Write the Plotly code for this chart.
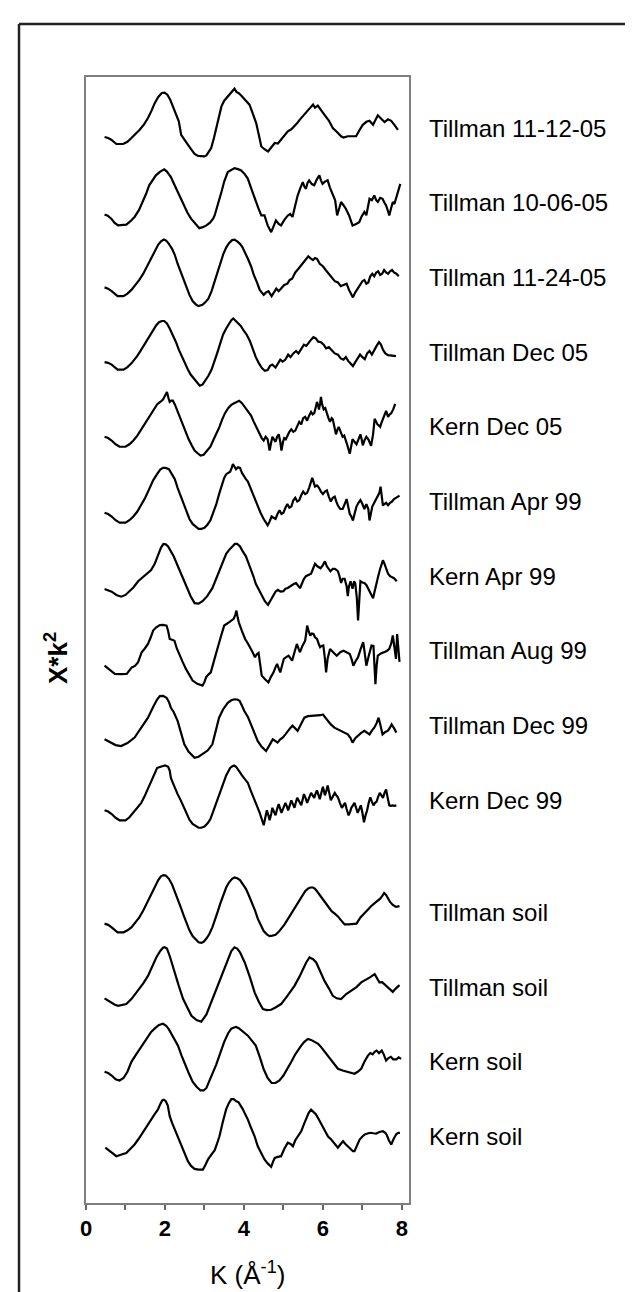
import plotly.graph_objects as go

# ---------------- data: (k [1/Angstrom], chi*k^2 [arb. units]) ----------------
sample_labels = ["Tillman 11-12-05", "Tillman 10-06-05", "Tillman 11-24-05", "Tillman Dec 05",
                 "Kern Dec 05", "Tillman Apr 99", "Kern Apr 99", "Tillman Aug 99",
                 "Tillman Dec 99", "Kern Dec 99", "Tillman soil", "Tillman soil",
                 "Kern soil", "Kern soil"]
stack_offsets = [0, -3, -6, -9, -12, -15, -18, -21, -24, -27, -31.5, -34.5, -37.5, -40.5]

tillman_111205 = [(0.47,-0.36),(0.56,-0.4),(0.64,-0.47),(0.77,-0.64),(0.94,-0.64),(1.05,-0.55),(1.15,-0.4),(1.25,-0.25),(1.36,-0.07),(1.47,0.15),(1.57,0.4),(1.66,0.7),(1.74,1.0),(1.83,1.25),(1.92,1.41),(1.99,1.42),(2.06,1.34),(2.13,1.15),(2.2,0.87),(2.28,0.55),(2.35,0.27),(2.41,-0.27),(2.5,-0.5),(2.58,-0.67),(2.66,-0.85),(2.75,-1.04),(2.84,-1.12),(2.92,-1.14),(3.0,-1.14),(3.05,-1.1),(3.17,-0.8),(3.24,-0.4),(3.3,0.0),(3.37,0.45),(3.43,0.87),(3.5,1.1),(3.59,1.27),(3.66,1.4),(3.72,1.5),(3.76,1.58),(3.81,1.45),(3.87,1.4),(3.93,1.31),(4.03,1.15),(4.14,0.94),(4.22,0.6),(4.31,0.2),(4.38,-0.3),(4.44,-0.74),(4.52,-0.85),(4.61,-0.94),(4.68,-0.8),(4.78,-0.6),(4.86,-0.62),(4.94,-0.47),(5.02,-0.3),(5.11,-0.13),(5.2,-0.05),(5.28,0.07),(5.35,0.2),(5.41,0.33),(5.5,0.5),(5.58,0.67),(5.67,0.8),(5.75,0.94),(5.8,0.82),(5.87,0.9),(5.95,0.7),(6.04,0.53),(6.15,0.3),(6.25,0.0),(6.35,-0.15),(6.46,-0.33),(6.52,-0.38),(6.63,-0.33),(6.75,-0.33),(6.84,-0.33),(6.92,-0.1),(7.01,0.13),(7.1,0.25),(7.18,0.29),(7.27,0.13),(7.33,0.35),(7.39,0.51),(7.47,0.38),(7.56,0.24),(7.65,0.35),(7.73,0.29),(7.81,0.13),(7.9,-0.07)]

tillman_100605 = [(0.47,-0.47),(0.55,-0.52),(0.64,-0.64),(0.72,-0.8),(0.81,-0.91),(0.92,-0.9),(1.02,-0.88),(1.12,-0.75),(1.23,-0.57),(1.34,-0.3),(1.44,0.03),(1.52,0.35),(1.6,0.7),(1.68,0.9),(1.77,1.1),(1.88,1.25),(1.98,1.34),(2.05,1.25),(2.15,1.03),(2.23,0.75),(2.32,0.43),(2.4,0.15),(2.49,-0.11),(2.57,-0.4),(2.66,-0.64),(2.77,-0.85),(2.87,-1.02),(2.96,-0.98),(3.05,-0.91),(3.14,-0.8),(3.22,-0.64),(3.26,-0.5),(3.3,-0.24),(3.36,0.05),(3.43,0.43),(3.5,0.85),(3.59,1.23),(3.67,1.32),(3.76,1.39),(3.85,1.35),(3.93,1.3),(4.02,1.15),(4.1,0.96),(4.18,0.6),(4.27,0.16),(4.36,-0.2),(4.44,-0.51),(4.52,-0.51),(4.6,-0.91),(4.69,-1.18),(4.75,-0.95),(4.81,-0.71),(4.88,-0.85),(4.94,-0.91),(5.02,-0.7),(5.11,-0.51),(5.17,-0.45),(5.23,-0.57),(5.3,-0.1),(5.36,0.29),(5.43,0.6),(5.49,0.83),(5.53,0.65),(5.57,0.56),(5.61,0.8),(5.65,0.9),(5.72,0.75),(5.78,0.7),(5.85,0.95),(5.91,1.1),(5.95,0.9),(5.99,0.76),(6.05,0.85),(6.12,0.9),(6.18,0.6),(6.25,0.29),(6.31,0.1),(6.36,-0.51),(6.41,-0.2),(6.46,0.03),(6.52,-0.1),(6.58,-0.24),(6.66,-0.5),(6.75,-0.91),(6.84,-0.85),(6.92,-0.78),(6.98,-0.55),(7.05,-0.37),(7.1,-0.5),(7.18,0.16),(7.24,0.1),(7.3,0.29),(7.35,0.1),(7.39,0.03),(7.45,0.2),(7.51,0.16),(7.56,0.0),(7.6,-0.11),(7.64,-0.3),(7.68,-0.51),(7.73,-0.2),(7.77,0.03),(7.81,-0.05),(7.85,0.16),(7.9,0.35),(7.96,0.76)]

tillman_112405 = [(0.47,-0.4),(0.56,-0.45),(0.65,-0.55),(0.8,-0.75),(0.95,-0.75),(1.05,-0.65),(1.15,-0.5),(1.25,-0.3),(1.35,-0.1),(1.45,0.15),(1.55,0.45),(1.65,0.8),(1.75,1.1),(1.83,1.32),(1.9,1.45),(1.97,1.52),(2.03,1.48),(2.1,1.35),(2.18,1.15),(2.25,0.9),(2.32,0.55),(2.4,0.2),(2.48,-0.15),(2.55,-0.45),(2.62,-0.7),(2.7,-0.95),(2.78,-1.08),(2.85,-1.15),(2.95,-1.1),(3.02,-1.0),(3.1,-0.85),(3.18,-0.55),(3.25,-0.2),(3.33,0.2),(3.4,0.6),(3.48,0.95),(3.55,1.2),(3.62,1.38),(3.7,1.5),(3.76,1.52),(3.83,1.45),(3.9,1.35),(3.96,1.22),(4.03,1.0),(4.1,0.75),(4.18,0.45),(4.25,0.1),(4.33,-0.2),(4.4,-0.5),(4.5,-0.7),(4.56,-0.6),(4.62,-0.55),(4.7,-0.75),(4.76,-0.6),(4.82,-0.45),(4.88,-0.55),(4.95,-0.4),(5.02,-0.3),(5.1,-0.25),(5.16,-0.1),(5.22,-0.05),(5.3,0.2),(5.38,0.35),(5.45,0.5),(5.52,0.65),(5.58,0.78),(5.63,0.85),(5.68,0.78),(5.75,0.7),(5.8,0.78),(5.85,0.75),(5.92,0.55),(6.0,0.45),(6.07,0.3),(6.15,0.15),(6.22,0.0),(6.3,-0.15),(6.38,-0.2),(6.45,-0.35),(6.52,-0.3),(6.6,-0.25),(6.66,-0.5),(6.72,-0.65),(6.76,-0.8),(6.82,-0.6),(6.88,-0.45),(6.95,-0.3),(7.0,-0.15),(7.05,-0.1),(7.1,-0.25),(7.15,-0.2),(7.2,0.05),(7.25,0.15),(7.3,0.05),(7.35,0.2),(7.4,0.25),(7.45,0.1),(7.5,0.15),(7.55,0.3),(7.6,0.2),(7.65,0.15),(7.7,0.25),(7.75,0.3),(7.8,0.2),(7.86,0.15),(7.92,0.05)]

tillman_dec05 = [(0.47,-0.4),(0.56,-0.43),(0.65,-0.5),(0.8,-0.7),(0.95,-0.7),(1.05,-0.6),(1.15,-0.45),(1.3,-0.15),(1.4,0.1),(1.5,0.35),(1.6,0.65),(1.7,0.9),(1.78,1.08),(1.85,1.2),(1.92,1.25),(1.98,1.25),(2.05,1.15),(2.12,0.95),(2.2,0.7),(2.28,0.4),(2.35,0.1),(2.42,-0.15),(2.5,-0.45),(2.58,-0.7),(2.65,-0.9),(2.72,-1.05),(2.8,-1.2),(2.88,-1.35),(2.95,-1.3),(3.02,-1.15),(3.1,-0.95),(3.18,-0.7),(3.25,-0.4),(3.32,-0.05),(3.4,0.35),(3.47,0.7),(3.55,0.95),(3.62,1.15),(3.68,1.28),(3.73,1.35),(3.78,1.28),(3.85,1.15),(3.92,1.05),(4.0,0.85),(4.07,0.7),(4.15,0.45),(4.22,0.15),(4.3,-0.2),(4.38,-0.45),(4.46,-0.65),(4.53,-0.75),(4.6,-0.72),(4.66,-0.55),(4.72,-0.5),(4.8,-0.62),(4.86,-0.45),(4.92,-0.3),(4.98,-0.38),(5.05,-0.3),(5.12,-0.1),(5.18,-0.2),(5.25,-0.05),(5.32,0.05),(5.38,-0.05),(5.45,0.15),(5.52,0.3),(5.58,0.25),(5.64,0.4),(5.7,0.5),(5.76,0.6),(5.82,0.55),(5.88,0.42),(5.95,0.4),(6.02,0.3),(6.08,0.15),(6.15,0.2),(6.22,0.1),(6.3,-0.05),(6.38,-0.1),(6.45,-0.25),(6.52,-0.3),(6.58,-0.2),(6.64,-0.35),(6.7,-0.45),(6.76,-0.56),(6.82,-0.4),(6.88,-0.25),(6.94,-0.1),(7.0,-0.2),(7.06,-0.28),(7.12,-0.05),(7.18,0.05),(7.24,-0.1),(7.3,0.1),(7.36,0.25),(7.42,0.4),(7.47,0.3),(7.52,0.1),(7.58,-0.05),(7.65,-0.12),(7.75,-0.15),(7.85,-0.16)]

kern_dec05 = [(0.47,-0.4),(0.56,-0.45),(0.65,-0.55),(0.75,-0.7),(0.85,-0.8),(1.0,-0.8),(1.1,-0.7),(1.2,-0.55),(1.3,-0.35),(1.4,-0.1),(1.5,0.15),(1.6,0.4),(1.7,0.65),(1.8,0.9),(1.88,1.0),(1.95,1.1),(2.0,1.25),(2.05,1.4),(2.09,1.15),(2.12,1.0),(2.16,1.05),(2.2,1.05),(2.25,0.9),(2.3,0.7),(2.38,0.4),(2.45,0.1),(2.52,-0.2),(2.6,-0.5),(2.68,-0.75),(2.75,-0.95),(2.82,-1.05),(2.9,-1.15),(2.98,-1.12),(3.05,-1.0),(3.15,-0.8),(3.22,-0.55),(3.3,-0.3),(3.38,0.0),(3.45,0.3),(3.52,0.55),(3.6,0.75),(3.68,0.88),(3.75,0.95),(3.82,1.02),(3.88,1.05),(3.95,0.95),(4.02,0.8),(4.1,0.65),(4.18,0.45),(4.25,0.2),(4.32,-0.05),(4.4,-0.3),(4.45,-0.45),(4.5,-0.55),(4.55,-0.4),(4.6,-0.5),(4.65,-0.95),(4.68,-0.7),(4.72,-0.4),(4.76,-0.5),(4.8,-0.6),(4.84,-0.4),(4.88,-0.3),(4.92,-0.6),(4.95,-0.95),(4.99,-0.6),(5.02,-0.45),(5.06,-0.5),(5.1,-0.35),(5.15,-0.2),(5.2,-0.1),(5.25,-0.2),(5.3,-0.15),(5.35,0.05),(5.4,0.2),(5.45,0.1),(5.5,0.35),(5.55,0.4),(5.6,0.25),(5.65,0.45),(5.7,0.6),(5.74,0.5),(5.78,0.55),(5.82,0.8),(5.85,1.0),(5.88,0.85),(5.9,0.7),(5.93,0.95),(5.95,1.2),(5.98,0.9),(6.02,0.7),(6.06,0.75),(6.1,0.5),(6.14,0.35),(6.18,0.2),(6.22,0.35),(6.25,0.3),(6.29,0.0),(6.33,-0.3),(6.37,-0.1),(6.4,0.0),(6.45,-0.2),(6.5,-0.4),(6.54,-0.35),(6.58,-0.6),(6.63,-0.8),(6.68,-1.08),(6.72,-0.7),(6.75,-0.5),(6.8,-0.6),(6.85,-0.7),(6.9,-0.5),(6.95,-0.3),(6.98,-0.5),(7.01,-0.74),(7.05,-0.55),(7.1,-0.4),(7.15,-0.5),(7.22,-0.76),(7.27,-0.3),(7.31,0.32),(7.35,0.2),(7.38,0.1),(7.42,0.05),(7.45,0.0),(7.48,0.15),(7.52,0.3),(7.56,0.45),(7.6,0.64),(7.63,0.5),(7.65,0.4),(7.69,0.5),(7.73,0.55),(7.78,0.7),(7.83,0.92)]

tillman_apr99 = [(0.47,-0.45),(0.56,-0.5),(0.65,-0.6),(0.75,-0.75),(0.85,-0.85),(1.0,-0.85),(1.1,-0.75),(1.2,-0.6),(1.3,-0.4),(1.4,-0.15),(1.5,0.15),(1.6,0.5),(1.7,0.85),(1.8,1.1),(1.88,1.28),(1.95,1.35),(2.02,1.35),(2.1,1.3),(2.18,1.1),(2.25,0.9),(2.32,0.55),(2.4,0.2),(2.48,-0.15),(2.55,-0.45),(2.62,-0.7),(2.7,-0.9),(2.78,-1.02),(2.85,-1.1),(2.92,-1.1),(3.0,-1.05),(3.08,-0.92),(3.15,-0.75),(3.22,-0.45),(3.3,-0.1),(3.38,0.35),(3.45,0.7),(3.5,0.95),(3.55,1.1),(3.6,1.15),(3.65,1.2),(3.69,1.35),(3.72,1.5),(3.76,1.4),(3.8,1.3),(3.85,1.38),(3.9,1.35),(3.95,1.15),(4.0,1.0),(4.05,0.9),(4.1,0.8),(4.15,0.6),(4.2,0.4),(4.28,0.1),(4.35,-0.2),(4.42,-0.45),(4.5,-0.7),(4.55,-0.85),(4.6,-0.95),(4.65,-0.8),(4.7,-0.6),(4.75,-0.65),(4.8,-0.7),(4.85,-0.5),(4.9,-0.35),(4.95,-0.5),(5.0,-0.45),(5.05,-0.25),(5.1,-0.1),(5.15,-0.25),(5.2,-0.2),(5.25,0.05),(5.3,0.15),(5.35,0.0),(5.4,0.05),(5.45,0.25),(5.5,0.4),(5.55,0.3),(5.6,0.35),(5.65,0.55),(5.7,0.8),(5.73,0.95),(5.76,0.8),(5.8,0.6),(5.85,0.65),(5.9,0.55),(5.95,0.4),(6.0,0.3),(6.05,0.4),(6.1,0.45),(6.15,0.2),(6.2,0.0),(6.25,0.15),(6.3,0.2),(6.34,0.0),(6.38,-0.16),(6.44,-0.3),(6.5,-0.3),(6.55,-0.1),(6.6,0.1),(6.64,-0.2),(6.68,-0.5),(6.72,-0.6),(6.76,-0.76),(6.8,-0.5),(6.85,-0.2),(6.9,-0.05),(6.95,0.06),(7.0,-0.1),(7.05,-0.3),(7.1,-0.1),(7.15,-0.3),(7.18,-0.76),(7.22,-0.4),(7.25,-0.2),(7.3,-0.05),(7.35,0.1),(7.4,0.2),(7.43,0.35),(7.46,0.6),(7.49,0.3),(7.52,-0.16),(7.56,-0.1),(7.6,-0.05),(7.65,-0.15),(7.7,-0.05),(7.75,0.0),(7.8,0.1),(7.85,0.15),(7.9,0.2),(7.94,0.24)]

kern_apr99 = [(0.47,-0.51),(0.56,-0.55),(0.65,-0.62),(0.77,-0.75),(0.89,-0.82),(1.0,-0.75),(1.1,-0.6),(1.2,-0.45),(1.32,-0.2),(1.43,-0.05),(1.55,0.1),(1.65,0.25),(1.74,0.5),(1.82,0.85),(1.9,1.15),(1.96,1.3),(2.02,1.28),(2.08,1.2),(2.15,1.0),(2.22,0.8),(2.3,0.5),(2.38,0.2),(2.46,-0.15),(2.55,-0.45),(2.65,-0.8),(2.75,-1.08),(2.85,-1.1),(2.95,-1.0),(3.07,-0.8),(3.2,-0.48),(3.3,-0.1),(3.4,0.32),(3.48,0.65),(3.55,0.9),(3.62,1.05),(3.7,1.2),(3.77,1.3),(3.83,1.3),(3.9,1.2),(3.97,1.0),(4.05,0.8),(4.11,0.55),(4.17,0.32),(4.24,0.0),(4.3,-0.3),(4.38,-0.55),(4.45,-0.8),(4.53,-1.0),(4.61,-1.15),(4.68,-0.95),(4.75,-0.75),(4.8,-0.62),(4.86,-0.55),(4.93,-0.62),(5.0,-0.6),(5.05,-0.5),(5.11,-0.47),(5.17,-0.4),(5.22,-0.35),(5.27,-0.3),(5.32,-0.27),(5.37,-0.4),(5.42,-0.48),(5.48,-0.25),(5.52,-0.1),(5.57,0.0),(5.63,0.05),(5.7,0.1),(5.75,0.3),(5.8,0.5),(5.86,0.4),(5.94,0.32),(6.0,0.45),(6.05,0.6),(6.1,0.4),(6.15,0.3),(6.19,0.2),(6.25,0.3),(6.3,0.3),(6.35,0.25),(6.38,0.2),(6.42,0.0),(6.46,-0.27),(6.5,-0.1),(6.55,-0.1),(6.6,-0.4),(6.63,-0.8),(6.66,-0.4),(6.7,-0.2),(6.75,-0.5),(6.79,-0.2),(6.82,-0.3),(6.86,-0.9),(6.89,-1.77),(6.92,-0.8),(6.95,-0.2),(7.0,-0.25),(7.05,-0.27),(7.1,-0.35),(7.15,-0.5),(7.2,-0.7),(7.27,-0.88),(7.31,-0.6),(7.35,-0.3),(7.4,0.0),(7.45,0.3),(7.49,0.55),(7.52,0.64),(7.56,0.5),(7.6,0.3),(7.65,0.1),(7.7,0.0),(7.75,-0.05),(7.8,-0.08),(7.87,-0.2)]

tillman_aug99 = [(0.47,-0.59),(0.6,-0.75),(0.73,-0.92),(0.88,-0.93),(1.03,-0.92),(1.16,-0.66),(1.24,-0.6),(1.32,-0.45),(1.41,-0.05),(1.49,0.1),(1.57,0.28),(1.64,0.55),(1.7,0.82),(1.78,0.95),(1.87,1.04),(1.96,1.05),(2.04,1.02),(2.08,0.8),(2.12,0.48),(2.18,0.45),(2.24,0.41),(2.3,0.1),(2.37,-0.19),(2.45,-0.45),(2.53,-0.72),(2.62,-0.98),(2.7,-1.19),(2.82,-1.32),(2.95,-1.39),(3.0,-1.25),(3.04,-1.06),(3.1,-0.95),(3.16,-0.86),(3.25,-0.35),(3.33,0.15),(3.42,0.6),(3.5,1.02),(3.56,1.1),(3.62,1.15),(3.68,1.22),(3.74,1.29),(3.78,1.45),(3.81,1.62),(3.84,1.35),(3.87,1.15),(3.95,0.8),(4.03,0.48),(4.1,0.3),(4.16,0.15),(4.22,-0.05),(4.28,-0.25),(4.33,-0.12),(4.37,-0.08),(4.41,-0.6),(4.45,-0.99),(4.54,-1.15),(4.62,-1.26),(4.68,-1.05),(4.75,-0.86),(4.8,-0.65),(4.84,-0.52),(4.88,-0.7),(4.92,-0.86),(4.97,-0.55),(5.01,-0.32),(5.07,-0.25),(5.13,-0.19),(5.18,-0.3),(5.22,-0.39),(5.28,-0.05),(5.34,0.28),(5.38,0.1),(5.42,-0.05),(5.48,0.2),(5.55,0.41),(5.58,0.75),(5.6,1.02),(5.64,0.8),(5.68,0.62),(5.72,0.7),(5.76,0.68),(5.8,0.55),(5.85,0.48),(5.89,0.3),(5.93,0.15),(5.97,0.2),(6.01,0.22),(6.05,-0.3),(6.08,-0.86),(6.12,-0.3),(6.18,0.08),(6.26,-0.05),(6.35,-0.19),(6.44,-0.05),(6.52,0.01),(6.6,-0.05),(6.68,-0.12),(6.73,-0.35),(6.77,-0.59),(6.83,-0.4),(6.89,-0.25),(6.95,0.05),(7.02,0.35),(7.06,-0.1),(7.1,-0.59),(7.16,-0.2),(7.23,0.22),(7.28,0.2),(7.31,-0.5),(7.33,-1.33),(7.36,-0.6),(7.39,-0.19),(7.47,-0.1),(7.56,-0.05),(7.62,0.0),(7.68,0.08),(7.73,0.3),(7.77,0.62),(7.81,0.1),(7.85,-0.32),(7.88,0.68),(7.91,0.2),(7.94,-0.44)]

tillman_dec99 = [(0.47,-0.55),(0.6,-0.65),(0.75,-0.78),(0.89,-0.82),(1.05,-0.7),(1.23,-0.48),(1.4,-0.1),(1.57,0.32),(1.7,0.75),(1.8,1.05),(1.87,1.19),(1.95,1.2),(2.04,1.12),(2.1,0.95),(2.15,0.72),(2.22,0.55),(2.32,0.19),(2.4,-0.25),(2.49,-0.75),(2.6,-1.05),(2.75,-1.29),(2.85,-1.25),(2.95,-1.15),(3.08,-1.0),(3.2,-0.75),(3.28,-0.25),(3.37,0.32),(3.47,0.65),(3.59,0.92),(3.68,1.02),(3.76,1.06),(3.83,1.05),(3.89,1.0),(3.95,0.8),(4.01,0.59),(4.1,0.35),(4.18,0.05),(4.27,-0.3),(4.35,-0.62),(4.45,-0.85),(4.56,-1.02),(4.64,-0.8),(4.73,-0.55),(4.8,-0.62),(4.85,-0.68),(4.92,-0.55),(4.98,-0.48),(5.05,-0.35),(5.11,-0.21),(5.17,-0.1),(5.23,0.0),(5.3,-0.1),(5.36,-0.21),(5.44,0.05),(5.53,0.32),(5.62,0.38),(5.7,0.39),(5.78,0.4),(5.87,0.39),(5.94,0.42),(6.0,0.45),(6.06,0.32),(6.12,0.19),(6.2,0.05),(6.29,-0.08),(6.38,-0.15),(6.46,-0.21),(6.55,-0.28),(6.63,-0.35),(6.7,-0.5),(6.75,-0.68),(6.82,-0.5),(6.88,-0.41),(6.96,-0.3),(7.05,-0.21),(7.12,-0.28),(7.18,-0.35),(7.24,-0.2),(7.3,-0.08),(7.36,0.1),(7.41,0.32),(7.46,0.0),(7.51,-0.35),(7.58,-0.25),(7.64,-0.21),(7.69,-0.1),(7.74,0.05),(7.8,-0.1),(7.86,-0.28)]

kern_dec99 = [(0.47,-0.4),(0.56,-0.45),(0.65,-0.55),(0.75,-0.7),(0.85,-0.8),(1.0,-0.8),(1.1,-0.68),(1.2,-0.5),(1.3,-0.3),(1.4,-0.1),(1.48,0.15),(1.55,0.4),(1.62,0.65),(1.7,0.9),(1.76,1.15),(1.8,1.3),(1.85,1.33),(1.9,1.35),(1.95,1.37),(2.0,1.4),(2.04,1.38),(2.08,1.35),(2.12,1.2),(2.15,0.9),(2.2,0.7),(2.25,0.5),(2.32,0.25),(2.4,0.0),(2.48,-0.3),(2.55,-0.55),(2.62,-0.78),(2.7,-0.95),(2.78,-1.05),(2.85,-1.1),(2.92,-1.1),(3.0,-1.05),(3.08,-0.92),(3.15,-0.75),(3.22,-0.45),(3.3,-0.1),(3.38,0.25),(3.45,0.6),(3.55,1.0),(3.6,1.15),(3.65,1.3),(3.7,1.36),(3.75,1.4),(3.8,1.35),(3.85,1.25),(3.9,1.12),(3.95,1.0),(4.02,0.85),(4.1,0.7),(4.17,0.4),(4.25,0.1),(4.32,-0.2),(4.4,-0.5),(4.45,-0.75),(4.5,-1.0),(4.54,-0.7),(4.58,-0.4),(4.62,-0.6),(4.65,-0.8),(4.69,-0.55),(4.72,-0.3),(4.76,-0.45),(4.8,-0.6),(4.84,-0.35),(4.88,-0.15),(4.92,-0.35),(4.95,-0.5),(5.0,-0.3),(5.05,-0.1),(5.09,-0.25),(5.12,-0.4),(5.16,-0.2),(5.2,0.0),(5.24,-0.15),(5.28,-0.3),(5.32,-0.05),(5.35,0.1),(5.4,-0.05),(5.45,-0.2),(5.49,0.05),(5.52,0.25),(5.56,0.1),(5.6,-0.1),(5.65,0.1),(5.7,0.3),(5.74,0.2),(5.78,0.1),(5.82,0.3),(5.85,0.4),(5.89,0.2),(5.92,0.05),(5.96,0.3),(6.0,0.55),(6.03,0.35),(6.05,0.2),(6.09,0.4),(6.12,0.6),(6.16,0.3),(6.2,0.0),(6.25,0.15),(6.3,0.3),(6.34,0.2),(6.38,0.12),(6.43,-0.1),(6.48,-0.3),(6.52,-0.2),(6.56,-0.1),(6.6,-0.35),(6.65,-0.6),(6.69,-0.45),(6.72,-0.3),(6.76,-0.2),(6.8,-0.1),(6.84,-0.3),(6.88,-0.5),(6.92,-0.35),(6.96,-0.2),(7.0,-0.5),(7.04,-0.88),(7.08,-0.6),(7.12,-0.4),(7.16,-0.1),(7.2,0.12),(7.24,-0.05),(7.28,-0.2),(7.32,-0.1),(7.36,-0.05),(7.4,0.15),(7.44,0.3),(7.48,0.2),(7.52,0.1),(7.56,0.3),(7.6,0.44),(7.64,0.1),(7.68,-0.2),(7.72,-0.22),(7.76,-0.2),(7.81,-0.22),(7.86,-0.2)]

tillman_soil_a = [(0.47,-0.45),(0.56,-0.5),(0.65,-0.6),(0.8,-0.8),(0.95,-0.8),(1.05,-0.72),(1.15,-0.6),(1.25,-0.42),(1.35,-0.2),(1.45,0.08),(1.55,0.4),(1.65,0.75),(1.75,1.05),(1.83,1.3),(1.9,1.45),(1.96,1.5),(2.02,1.48),(2.1,1.35),(2.18,1.12),(2.25,0.85),(2.32,0.55),(2.4,0.2),(2.48,-0.15),(2.55,-0.45),(2.62,-0.72),(2.7,-0.95),(2.78,-1.1),(2.85,-1.2),(2.92,-1.22),(2.98,-1.18),(3.05,-1.05),(3.12,-0.88),(3.2,-0.6),(3.27,-0.3),(3.34,0.05),(3.4,0.35),(3.48,0.7),(3.55,1.0),(3.62,1.2),(3.7,1.35),(3.76,1.4),(3.83,1.37),(3.9,1.3),(3.97,1.15),(4.05,0.95),(4.12,0.7),(4.2,0.4),(4.28,0.08),(4.35,-0.25),(4.42,-0.5),(4.5,-0.75),(4.58,-0.88),(4.65,-0.95),(4.72,-0.93),(4.8,-0.9),(4.88,-0.78),(4.95,-0.65),(5.02,-0.5),(5.1,-0.3),(5.18,-0.1),(5.25,0.1),(5.32,0.3),(5.4,0.5),(5.48,0.7),(5.55,0.85),(5.62,0.95),(5.68,1.0),(5.75,1.0),(5.8,0.95),(5.85,0.85),(5.92,0.7),(6.0,0.55),(6.08,0.38),(6.15,0.2),(6.22,0.05),(6.3,-0.05),(6.38,-0.16),(6.45,-0.3),(6.55,-0.48),(6.65,-0.48),(6.75,-0.48),(6.85,-0.45),(6.95,-0.2),(7.06,0.0),(7.15,0.12),(7.22,0.25),(7.31,0.37),(7.38,0.45),(7.45,0.55),(7.5,0.65),(7.55,0.78),(7.6,0.7),(7.65,0.55),(7.7,0.42),(7.77,0.3),(7.85,0.22),(7.94,0.25)]

tillman_soil_b = [(0.47,-0.45),(0.6,-0.58),(0.72,-0.7),(0.81,-0.75),(0.92,-0.72),(1.02,-0.68),(1.15,-0.48),(1.32,-0.15),(1.45,0.15),(1.57,0.45),(1.68,0.85),(1.78,1.19),(1.88,1.45),(1.95,1.58),(1.99,1.6),(2.05,1.55),(2.12,1.25),(2.24,0.59),(2.35,0.05),(2.46,-0.48),(2.57,-0.85),(2.67,-1.15),(2.8,-1.32),(2.92,-1.39),(3.05,-1.1),(3.17,-0.61),(3.28,-0.2),(3.38,0.19),(3.48,0.65),(3.59,1.12),(3.68,1.45),(3.76,1.6),(3.83,1.55),(3.9,1.4),(4.02,0.99),(4.15,0.4),(4.27,-0.21),(4.38,-0.6),(4.48,-0.88),(4.58,-0.92),(4.69,-0.91),(4.8,-0.82),(4.94,-0.68),(5.1,-0.35),(5.28,0.05),(5.4,0.4),(5.49,0.72),(5.58,1.0),(5.66,1.19),(5.75,1.12),(5.83,0.99),(5.93,0.65),(6.04,0.25),(6.15,-0.05),(6.25,-0.35),(6.35,-0.45),(6.46,-0.48),(6.59,-0.28),(6.72,-0.15),(6.85,0.0),(6.97,0.19),(7.1,0.3),(7.2,0.4),(7.31,0.52),(7.37,0.35),(7.43,0.19),(7.5,0.2),(7.56,0.12),(7.65,0.0),(7.72,-0.12),(7.77,-0.19),(7.85,-0.05),(7.94,0.08)]

kern_soil_a = [(0.47,-0.4),(0.56,-0.45),(0.65,-0.55),(0.75,-0.7),(0.85,-0.75),(0.95,-0.65),(1.05,-0.4),(1.15,0.0),(1.25,0.25),(1.35,0.5),(1.45,0.75),(1.55,1.0),(1.65,1.2),(1.75,1.35),(1.85,1.48),(1.95,1.53),(2.03,1.45),(2.1,1.3),(2.2,1.0),(2.33,0.65),(2.42,0.25),(2.5,-0.1),(2.6,-0.45),(2.7,-0.8),(2.8,-1.0),(2.9,-1.15),(2.98,-1.15),(3.05,-1.05),(3.12,-0.8),(3.2,-0.5),(3.3,-0.1),(3.4,0.35),(3.5,0.8),(3.6,1.15),(3.68,1.33),(3.75,1.38),(3.8,1.4),(3.87,1.35),(3.95,1.25),(4.03,1.15),(4.1,1.05),(4.2,0.85),(4.3,0.65),(4.4,0.2),(4.5,-0.3),(4.6,-0.65),(4.7,-0.85),(4.8,-0.85),(4.9,-0.75),(5.0,-0.55),(5.1,-0.3),(5.2,0.0),(5.3,0.3),(5.38,0.5),(5.45,0.65),(5.53,0.8),(5.62,0.92),(5.7,0.88),(5.8,0.8),(5.88,0.72),(5.95,0.6),(6.05,0.4),(6.15,0.2),(6.25,0.0),(6.32,-0.15),(6.38,-0.28),(6.5,-0.35),(6.6,-0.4),(6.7,-0.45),(6.8,-0.48),(6.88,-0.4),(6.97,-0.28),(7.05,0.0),(7.14,0.25),(7.2,0.35),(7.26,0.3),(7.31,0.4),(7.36,0.45),(7.42,0.35),(7.49,0.45),(7.54,0.3),(7.6,0.05),(7.66,0.15),(7.72,0.2),(7.78,0.1),(7.86,0.1),(7.92,0.18),(7.98,0.12)]

kern_soil_b = [(0.49,-0.45),(0.6,-0.58),(0.68,-0.7),(0.77,-0.79),(0.9,-0.72),(1.02,-0.66),(1.12,-0.5),(1.23,-0.32),(1.33,-0.1),(1.44,0.15),(1.55,0.42),(1.65,0.68),(1.73,0.88),(1.82,1.08),(1.88,1.3),(1.93,1.45),(1.97,1.48),(2.02,1.42),(2.07,1.25),(2.12,0.82),(2.18,0.55),(2.25,0.28),(2.33,-0.05),(2.41,-0.39),(2.5,-0.7),(2.58,-0.99),(2.66,-1.18),(2.75,-1.3),(2.85,-1.33),(2.96,-1.33),(3.02,-1.15),(3.09,-0.92),(3.18,-0.72),(3.26,-0.55),(3.32,-0.28),(3.38,0.01),(3.46,0.55),(3.55,1.1),(3.62,1.35),(3.68,1.5),(3.74,1.5),(3.8,1.42),(3.86,1.38),(3.92,1.25),(3.97,1.1),(4.03,0.9),(4.1,0.68),(4.18,0.35),(4.27,0.01),(4.35,-0.39),(4.43,-0.65),(4.52,-0.92),(4.6,-1.08),(4.69,-1.22),(4.74,-1.0),(4.78,-0.86),(4.86,-0.82),(4.94,-0.79),(5.02,-0.5),(5.11,-0.25),(5.18,-0.3),(5.24,-0.39),(5.3,-0.15),(5.38,0.05),(5.45,0.21),(5.52,0.5),(5.58,0.75),(5.64,0.95),(5.7,1.08),(5.76,1.0),(5.82,0.9),(5.89,0.7),(5.96,0.48),(6.05,0.2),(6.13,0.0),(6.21,-0.12),(6.3,-0.3),(6.38,-0.45),(6.45,-0.3),(6.51,-0.19),(6.57,-0.3),(6.63,-0.39),(6.7,-0.5),(6.76,-0.59),(6.8,-0.59),(6.86,-0.35),(6.93,-0.12),(7.0,0.0),(7.06,0.08),(7.13,0.12),(7.2,0.15),(7.28,0.13),(7.35,0.12),(7.43,0.18),(7.52,0.21),(7.58,0.15),(7.62,0.05),(7.67,-0.15),(7.73,-0.32),(7.79,-0.1),(7.86,0.1),(7.91,0.15),(7.95,0.15)]

spectra = [tillman_111205, tillman_100605, tillman_112405, tillman_dec05, kern_dec05,
           tillman_apr99, kern_apr99, tillman_aug99, tillman_dec99, kern_dec99,
           tillman_soil_a, tillman_soil_b, kern_soil_a, kern_soil_b]

# ---------------- figure ----------------
FONT = "Liberation Sans, Arial, sans-serif"
fig = go.Figure()
for spec, off in zip(spectra, stack_offsets):
    ks = [p[0] for p in spec]
    ys = [p[1] + off for p in spec]
    fig.add_trace(go.Scatter(x=ks, y=ys, mode="lines",
                             line=dict(color="black", width=2.2),
                             showlegend=False, hoverinfo="skip"))

for lab, off in zip(sample_labels, stack_offsets):
    fig.add_annotation(text=lab, x=1.0557, xref="paper", y=off, yref="y",
                       xanchor="left", yanchor="middle", showarrow=False,
                       font=dict(family=FONT, size=24, color="black"))

fig.add_annotation(text="K (Å<sup>-1</sup>)", x=0.5, xref="paper", y=-0.063, yref="paper",
                   xanchor="center", yanchor="middle", showarrow=False,
                   font=dict(family=FONT, size=26, color="black"))
fig.add_annotation(text="<b>X*k<sup>2</sup></b>", x=-0.093, xref="paper", y=0.484, yref="paper",
                   xanchor="center", yanchor="middle", showarrow=False, textangle=-90,
                   font=dict(family=FONT, size=26, color="black"))

# outer figure border (top and left edges)
fig.add_shape(type="line", xref="paper", yref="paper", x0=-0.2074, x1=1.72, y0=1.047, y1=1.047,
              line=dict(color="#222222", width=2.5))
fig.add_shape(type="line", xref="paper", yref="paper", x0=-0.2074, x1=-0.2074, y0=1.047, y1=-0.09,
              line=dict(color="#222222", width=2.5))

fig.update_layout(
    width=633, height=1292,
    margin=dict(l=78, r=232, t=69, b=97),
    paper_bgcolor="white", plot_bgcolor="white",
    xaxis=dict(range=[0, 8.18], tick0=0, dtick=2,
               ticks="outside", ticklen=5, tickwidth=1.5, tickcolor="#666666",
               minor=dict(dtick=1, tick0=0, ticks="outside", ticklen=5, tickwidth=1.5,
                          tickcolor="#666666", showgrid=False),
               showline=True, linecolor="#7f7f7f", linewidth=2, mirror=True,
               showgrid=False, zeroline=False,
               tickfont=dict(family=FONT, size=22, color="black", weight="bold")),
    yaxis=dict(range=[-43.17, 2.05], showticklabels=False, ticks="",
               showline=True, linecolor="#7f7f7f", linewidth=2, mirror=True,
               showgrid=False, zeroline=False),
)

fig.write_html("out.html")
